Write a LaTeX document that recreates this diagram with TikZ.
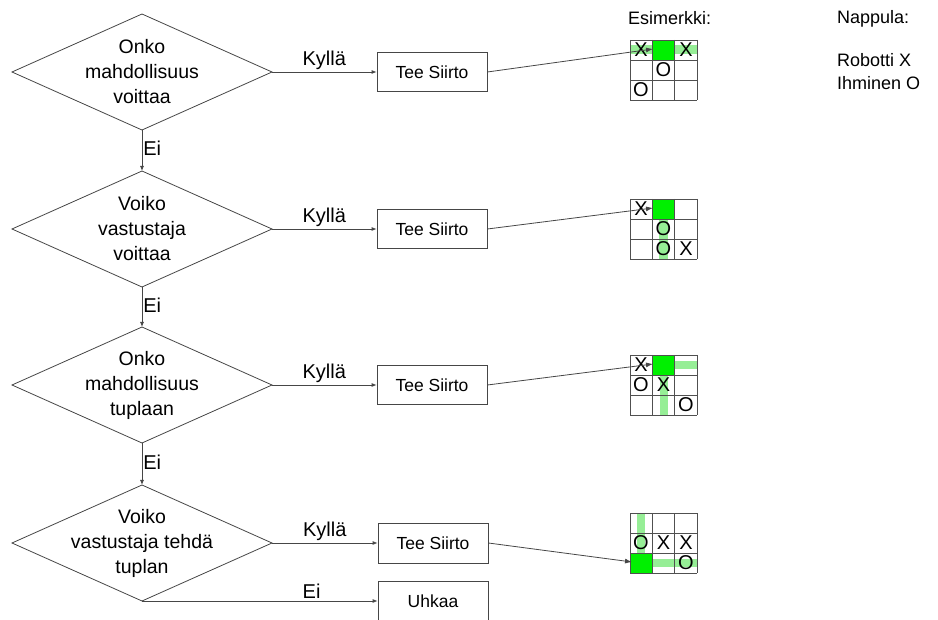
\documentclass[tikz,border=0pt]{standalone}
\usepackage{fontspec}
\setmainfont{Liberation Sans}
\usetikzlibrary{shapes.geometric,arrows.meta}
\definecolor{linec}{RGB}{70,70,70}
\definecolor{gridc}{RGB}{80,80,80}
\definecolor{hotg}{RGB}{0,240,0}
\definecolor{softg}{RGB}{150,238,150}
\newcommand{\tttgrid}[2]{%
  \foreach \i in {0,...,3} {%
    \draw[gridline] ({#1+22.3*\i},#2) -- ({#1+22.3*\i},{#2+60});
    \draw[gridline] (#1,{#2+20*\i}) -- ({#1+66.9},{#2+20*\i});
  }}
\begin{document}
\begin{tikzpicture}[x=1pt,y=-1pt,
  dia/.style={diamond,draw=linec,line width=0.8pt,minimum width=260pt,minimum height=116pt,inner sep=0pt,outer sep=0pt},
  diatext/.style={align=center,font=\fontsize{19.5}{25}\selectfont},
  stepbox/.style={draw=linec,line width=0.8pt,minimum width=110pt,minimum height=39pt,inner sep=0pt,font=\fontsize{17.5}{20}\selectfont},
  lbl/.style={font=\fontsize{20}{22}\selectfont,inner sep=1pt},
  small/.style={font=\fontsize{18}{20}\selectfont,inner sep=0pt},
  piece/.style={font=\fontsize{20}{20}\selectfont,inner sep=0pt},
  arr/.style={draw=linec,line width=0.8pt,-{Latex[length=5pt,width=4pt]}},
  exarr/.style={draw=linec,line width=0.8pt,-{Latex[length=7pt,width=5pt]}},
  gridline/.style={draw=gridc,line width=0.7pt},
  band/.style={fill=softg,draw=none},
  hot/.style={fill=hotg,draw=none}]
\useasboundingbox (0,0) rectangle (938,620);

% diamonds
\node[dia] (d1) at (142,72) {};
\node[diatext] at (d1.center) {Onko\\mahdollisuus\\voittaa};
\node[dia] (d2) at (142,229) {};
\node[diatext] at (d2.center) {Voiko\\vastustaja\\voittaa};
\node[dia] (d3) at (142,385) {};
\node[diatext] at (d3.center) {Onko\\mahdollisuus\\tuplaan};
\node[dia] (d4) at (142,543) {};
\node[diatext] at (d4.center) {Voiko\\vastustaja tehdä\\tuplan};

% boxes
\node[stepbox] (b1) at (432,72) {Tee Siirto};
\node[stepbox] (b2) at (432,229) {Tee Siirto};
\node[stepbox] (b3) at (432,385) {Tee Siirto};
\node[stepbox,minimum height=40pt] (b4) at (433,543) {Tee Siirto};
\node[stepbox,minimum height=40pt] (u) at (433,601) {Uhkaa};

% vertical Ei arrows
\draw[arr] (d1.south) -- node[lbl,right,pos=0.45] {Ei} (d2.north);
\draw[arr] (d2.south) -- node[lbl,right,pos=0.45] {Ei} (d3.north);
\draw[arr] (d3.south) -- node[lbl,right,pos=0.45] {Ei} (d4.north);

% Kyllä arrows
\draw[arr] (d1.east) -- node[lbl,above=1pt] {Kyllä} (b1.west);
\draw[arr] (d2.east) -- node[lbl,above=1pt] {Kyllä} (b2.west);
\draw[arr] (d3.east) -- node[lbl,above=1pt] {Kyllä} (b3.west);
\draw[arr] (d4.east) -- node[lbl,above=1pt] {Kyllä} (b4.west);
\draw[arr] (d4.south) -- node[lbl,above=1pt,pos=0.72] {Ei} (u.west);

% headings
\node[small,anchor=west] (esim) at (628,18) {Esimerkki:};
\node[small,anchor=west] (napp) at (837,19) {Nappula:};
\node[small,anchor=west] (rob) at (837,60) {Robotti X};
\node[small,anchor=west] (ihm) at (837,83) {Ihminen O};

% grid 1
\fill[band] (630,45) rectangle (697,54);
\fill[hot] (652.3,40) rectangle (674.6,60);
\tttgrid{630}{40}
\node[piece] at (641,50) {X};
\node[piece] at (686,50) {X};
\node[piece] at (663.5,70) {O};
\node[piece] at (641,90) {O};

% grid 2
\fill[band] (659,219) rectangle (668,259);
\fill[hot] (652.3,199) rectangle (674.6,219);
\tttgrid{630}{199}
\node[piece] at (641,209) {X};
\node[piece] at (663.5,229) {O};
\node[piece] at (663.5,249) {O};
\node[piece] at (686,249) {X};

% grid 3
\fill[band] (674.6,361) rectangle (697,369);
\fill[band] (659.5,375) rectangle (667.5,415);
\fill[hot] (652.3,355) rectangle (674.6,375);
\tttgrid{630}{355}
\node[piece] at (641,365) {X};
\node[piece] at (641,385) {O};
\node[piece] at (663.5,385) {X};
\node[piece] at (686,405) {O};

% grid 4
\fill[band] (637,514) rectangle (645,553);
\fill[band] (652.3,559) rectangle (697,567);
\fill[hot] (630,553) rectangle (652.3,573);
\tttgrid{630}{513}
\node[piece] at (641,543) {O};
\node[piece] at (663.5,543) {X};
\node[piece] at (686,543) {X};
\node[piece] at (686,563) {O};

% arrows to examples
\coordinate (t1) at (653,49);
\coordinate (t2) at (653,208);
\coordinate (t3) at (653,364);
\coordinate (t4) at (632,562);
\draw[exarr] (b1.east) -- (t1);
\draw[exarr] (b2.east) -- (t2);
\draw[exarr] (b3.east) -- (t3);
\draw[exarr] (b4.east) -- (t4);
\end{tikzpicture}
\end{document}
